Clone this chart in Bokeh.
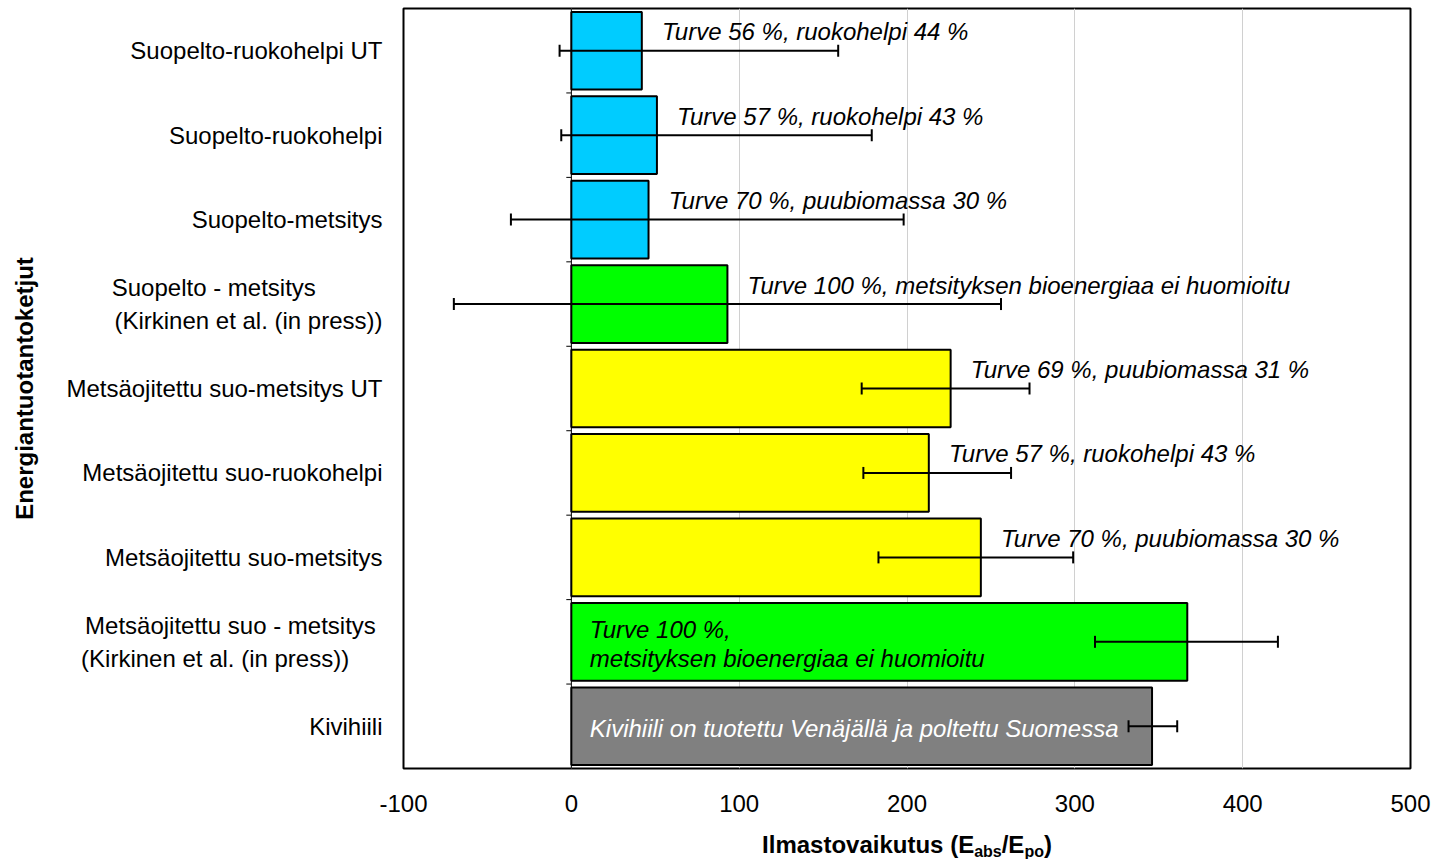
from bokeh.plotting import figure
from bokeh.layouts import column
from bokeh.models import Range1d, FixedTicker, ColumnDataSource, Whisker, TeeHead, Span
from bokeh.core.properties import value
from bokeh.embed import file_html
from bokeh.resources import INLINE

NB = "\u00a0"
categories = [
    "Suopelto-ruokohelpi UT",
    "Suopelto-ruokohelpi",
    "Suopelto-metsitys",
    "Suopelto - metsitys\n(Kirkinen et al. (in press))",
    "Metsäojitettu suo-metsitys UT",
    "Metsäojitettu suo-ruokohelpi",
    "Metsäojitettu suo-metsitys",
    "Metsäojitettu suo - metsitys\n(Kirkinen et al. (in press))",
    "Kivihiili",
]
# trailing padding (in non-breaking spaces) per label line, to mimic the left-aligned two-line labels
label_line_pad = [[0], [0], [0], [10, 0], [0], [0], [0], [1, 5], [0]]
values = [42, 51, 46, 93, 226, 213, 244, 367, 346]
err_low = [-7, -6, -36, -70, 173, 174, 183, 312, 332]
err_high = [159, 179, 198, 256, 273, 262, 299, 421, 361]
groups = ["suopelto", "suopelto", "suopelto", "kirkinen", "metsa", "metsa", "metsa", "kirkinen", "kivihiili"]
annotations = [
    "Turve 56 %, ruokohelpi 44 %",
    "Turve 57 %, ruokohelpi 43 %",
    "Turve 70 %, puubiomassa 30 %",
    "Turve 100 %, metsityksen bioenergiaa ei huomioitu",
    "Turve 69 %, puubiomassa 31 %",
    "Turve 57 %, ruokohelpi 43 %",
    "Turve 70 %, puubiomassa 30 %",
    "Turve 100 %,\nmetsityksen bioenergiaa ei huomioitu",
    "Kivihiili on tuotettu Venäjällä ja poltettu Suomessa",
]
annotation_inside = [False, False, False, False, False, False, False, True, True]
x_ticks = [-100, 0, 100, 200, 300, 400, 500]
x_tick_labels = ["-100", "0", "100", "200", "300", "400", "500"]
x_title_parts = ["Ilmastovaikutus (E", "abs", "/E", "po", ")"]
y_title = "Energiantuotantoketjut"

group_colors = {"suopelto": "#00CCFF", "kirkinen": "#00FF00", "metsa": "#FFFF00", "kivihiili": "#808080"}
FONT = "Liberation Sans"
W = 1434
LEFT, RIGHT = 403, 24
STRIP_H = 39

n = len(categories)
idx = list(range(n))
src = ColumnDataSource(dict(
    y=idx, val=values, lo=err_low, hi=err_high,
    color=[group_colors[g] for g in groups],
))

p = figure(width=W, height=859 - STRIP_H, output_backend="svg", toolbar_location=None,
           x_range=Range1d(x_ticks[0], x_ticks[-1]), y_range=Range1d(n - 0.5, -0.5),
           min_border_left=LEFT, min_border_right=RIGHT, min_border_top=8, min_border_bottom=52)
p.outline_line_color = "black"
p.outline_line_width = 2
p.background_fill_color = "white"
p.border_fill_color = "white"

# grid
p.ygrid.grid_line_color = None
p.xgrid.grid_line_color = "#D0D0D0"
p.xgrid.grid_line_width = 1

# x axis
p.xaxis.ticker = FixedTicker(ticks=x_ticks)
p.xaxis.major_label_overrides = {t: s for t, s in zip(x_ticks, x_tick_labels)}
p.xaxis.axis_line_color = None
p.xaxis.major_tick_line_color = None
p.xaxis.minor_tick_line_color = None
p.xaxis.major_label_standoff = 20
p.xaxis.major_label_text_font = FONT
p.xaxis.major_label_text_font_size = "24px"
p.xaxis.major_label_text_color = "black"

# y axis (category labels)
def padded(label, pads):
    return "\n".join(line + NB * k for line, k in zip(label.split("\n"), pads))

p.yaxis.ticker = FixedTicker(ticks=idx)
p.yaxis.major_label_overrides = {i: padded(c, pd) for i, c, pd in zip(idx, categories, label_line_pad)}
p.yaxis.axis_line_color = None
p.yaxis.major_tick_line_color = None
p.yaxis.minor_tick_line_color = None
p.yaxis.major_label_standoff = 15
p.yaxis.major_label_text_font = FONT
p.yaxis.major_label_text_font_size = "24px"
p.yaxis.major_label_text_color = "black"
p.yaxis.axis_label = y_title
p.yaxis.axis_label_text_font = FONT
p.yaxis.axis_label_text_font_size = "24px"
p.yaxis.axis_label_text_font_style = "bold"
p.yaxis.axis_label_text_color = "black"
p.yaxis.axis_label_standoff = 25

# bars
p.hbar(y="y", left=0, right="val", height=0.92, fill_color="color",
       line_color="black", line_width=2, source=src)

# category axis at x=0 with boundary ticks
p.add_layout(Span(location=0, dimension="height", line_color="black", line_width=1))
bounds = [i + 0.5 for i in idx[:-1]]
p.segment(x0=[-3] * len(bounds), x1=[0] * len(bounds), y0=bounds, y1=bounds,
          line_color="black", line_width=1)

# annotations
ax, ay_off, acol, atxt = [], [], [], []
for v, t, inside, g in zip(values, annotations, annotation_inside, groups):
    atxt.append(t)
    if inside:
        ax.append(11)
        ay_off.append(2)
        acol.append("white" if g == "kivihiili" else "black")
    else:
        ax.append(v + 12)
        ay_off.append(-19)
        acol.append("black")
asrc = ColumnDataSource(dict(x=ax, y=idx, text=atxt, yo=ay_off, c=acol))
p.text(x="x", y="y", text="text", y_offset="yo", text_color="c", source=asrc,
       text_font=value(FONT), text_font_size="24px", text_font_style="italic",
       text_baseline="middle", text_align="left", text_line_height=1.05)

# error bars
wh = Whisker(base="y", lower="lo", upper="hi", dimension="width", source=src,
             line_color="black", line_width=2,
             upper_head=TeeHead(size=12, line_width=2, line_color="black"),
             lower_head=TeeHead(size=12, line_width=2, line_color="black"))
wh.level = "overlay"
p.add_layout(wh)

# x-axis title (with subscripts) in a strip below the chart; strip y units are pixels from bottom
t = figure(width=W, height=STRIP_H, output_backend="svg", toolbar_location=None,
           x_range=Range1d(x_ticks[0], x_ticks[-1]), y_range=Range1d(0, STRIP_H),
           min_border_left=LEFT, min_border_right=RIGHT, min_border_top=0, min_border_bottom=0,
           x_axis_location=None, y_axis_location=None)
t.outline_line_color = None
t.grid.grid_line_color = None
t.background_fill_color = "white"
t.border_fill_color = "white"

big, small = 24, 16
widths = [8.836 * big, 1.723 * small, 0.945 * big, 1.222 * small, 0.333 * big]
total = sum(widths)
offs, sizes, ys = [], [], []
xo = -total / 2
for part, w in zip(x_title_parts, widths):
    is_sub = part in ("abs", "po")
    offs.append(xo)
    sizes.append(f"{small if is_sub else big}px")
    ys.append(8 if is_sub else 15)
    xo += w
tsrc = ColumnDataSource(dict(x=[(x_ticks[0] + x_ticks[-1]) / 2] * len(x_title_parts), y=ys,
                             text=x_title_parts, xo=offs, fs=sizes))
t.text(x="x", y="y", text="text", x_offset="xo", text_font_size="fs", source=tsrc,
       text_font=value(FONT), text_font_style="bold", text_color="black",
       text_align="left", text_baseline="middle")

layout = column(p, t, spacing=0)
open("out.html", "w").write(file_html(layout, INLINE))
